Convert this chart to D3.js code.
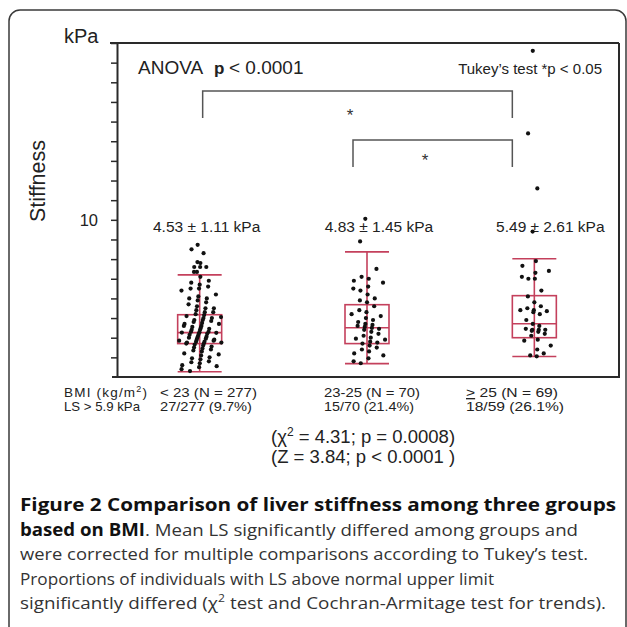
<!DOCTYPE html>
<html><head><meta charset="utf-8">
<script src="https://cdn.jsdelivr.net/npm/d3@7"></script>
<style>body{margin:0;background:#fff}svg{display:block}</style>
</head><body>
<script>
// ---- data ----
const groups = ["< 23", "23-25", ">= 25"];
const q1 = [3.70, 3.70, 4.00];
const medians = [4.26, 4.51, 4.71];
const q3 = [5.17, 5.68, 6.14];
const whiskLow = [2.27, 2.68, 3.04];
const whiskHigh = [7.20, 8.37, 8.02];
const meanLabels = ["4.53 \u00b1  1.11 kPa", "4.83 \u00b1 1.45 kPa", "5.49 \u00b1  2.61 kPa"];
const points1 = [8.73,8.5,8.3,7.85,7.8,7.6,7.6,7.6,7.35,7.35,
 7.1,6.9,6.8,6.7,6.6,6.5,6.5,6.4,6.2,6.1,6.0,6.0,5.9,5.8,5.7,5.6,5.5,5.5,5.4,5.3,5.3,5.2,
 5.15,5.1,5.05,5.0,5.0,4.9,4.9,4.85,4.8,4.75,4.7,4.7,4.6,4.6,4.55,4.5,4.45,4.4,4.4,4.3,4.3,4.28,4.26,4.25,4.2,4.2,4.15,4.1,4.05,4.0,4.0,3.95,3.9,3.9,3.85,3.85,3.8,3.8,3.75,3.75,3.7,3.7,
 3.65,3.6,3.55,3.5,3.45,3.4,3.35,3.3,3.2,3.15,3.1,3.0,2.95,2.9,2.8,2.75,2.7,2.6,2.55,2.5,2.4,2.3];
const points2 = [10.05,8.9,7.5,7.1,7.0,6.9,6.8,6.6,6.5,6.4,6.2,6.0,5.9,5.8,5.6,5.4,5.3,5.2,5.1,5.0,4.9,4.8,4.7,4.65,4.6,4.55,4.5,4.45,4.4,4.3,4.2,4.1,4.0,3.95,3.9,3.8,3.75,3.7,3.6,3.5,3.4,3.3,3.2,3.1,2.95,2.8,2.7];
const points3 = [18.6,14.4,11.6,9.4,7.9,7.66,7.4,7.3,7.1,7.0,7.0,6.4,6.1,5.8,5.6,5.5,5.4,5.4,5.35,5.3,5.2,4.9,4.7,4.6,4.45,4.4,4.4,4.4,4.35,4.3,4.2,4.1,3.9,3.85,3.6,3.4,3.2,3.1,3.05];
const allPoints = [points1, points2, points3];
const bmiRow = ["< 23 (N = 277)", "23-25 (N = 70)", "25 (N = 69)"];
const lsRow = ["27/277 (9.7%)", "15/70 (21.4%)", "18/59 (26.1%)"];
const yTicks = d3.range(3, 20);

// ---- drawing ----
const W = 627, H = 627;
const svg = d3.select("body").append("svg").attr("width", W).attr("height", H);
const FONT = "'Liberation Sans', Arial, sans-serif";
const plot = {l:117, r:619, t:43, b:377};

svg.append("rect").attr("x",9).attr("y",10).attr("width",617).attr("height",640)
  .attr("rx",11).attr("fill","none").attr("stroke","#3a3a3a").attr("stroke-width",1.5);

const x = d3.scaleBand().domain(groups).range([plot.l, plot.r]);
const y = d3.scaleLinear().domain([2, 19]).range([plot.b, plot.t]);

// frame
const fr = svg.append("g").attr("stroke","#2a2a2a").attr("stroke-width",2).attr("fill","none");
fr.append("line").attr("x1",110).attr("x2",plot.r).attr("y1",plot.t).attr("y2",plot.t);
fr.append("line").attr("x1",plot.r).attr("x2",plot.r).attr("y1",plot.t).attr("y2",plot.b);
fr.append("line").attr("x1",112).attr("x2",plot.r+1).attr("y1",plot.b).attr("y2",plot.b);

// y axis
const ax = svg.append("g").attr("transform",`translate(${plot.l},0)`)
  .call(d3.axisLeft(y).tickValues(yTicks).tickFormat(d => d === 10 ? "10" : "")
    .tickSize(6).tickSizeOuter(0).tickPadding(13));
ax.select(".domain").attr("stroke","#2a2a2a").attr("stroke-width",2);
ax.selectAll(".tick line").attr("stroke","#2a2a2a").attr("stroke-width",1.5);
ax.selectAll(".tick text").attr("font-family",FONT).attr("font-size",16.5).attr("fill","#222");

// axis titles
svg.append("text").attr("x",64).attr("y",43).attr("font-family",FONT).attr("font-size",20)
  .attr("fill","#222").text("kPa");
svg.append("text").attr("transform","translate(45,181) rotate(-90)").attr("text-anchor","middle")
  .attr("font-family",FONT).attr("font-size",21.5).attr("fill","#222").text("Stiffness");

// annotations
const an = svg.append("text").attr("y",74).attr("font-family",FONT).attr("font-size",19).attr("fill","#222");
an.append("tspan").attr("x",138).text("ANOVA");
an.append("tspan").attr("x",214).attr("font-weight","bold").attr("font-size",17).text("p");
an.append("tspan").attr("x",229).text("< 0.0001");
svg.append("text").attr("x",602).attr("y",74).attr("text-anchor","end").attr("font-family",FONT)
  .attr("font-size",15).attr("fill","#222").text("Tukey\u2019s test *p < 0.05");

// brackets
const cx = g => x(g) + x.bandwidth()/2;
const br = svg.append("g").attr("stroke","#555").attr("stroke-width",1.5).attr("fill","none");
br.append("path").attr("d",`M${cx(groups[0])+2},118V91H${cx(groups[2])-23}V118`);
br.append("path").attr("d",`M${cx(groups[1])-15},167V140H${cx(groups[2])-23}V167`);
svg.append("text").attr("x",350).attr("y",121).attr("text-anchor","middle").attr("font-family",FONT)
  .attr("font-size",17).attr("fill","#333").text("*");
svg.append("text").attr("x",425).attr("y",166).attr("text-anchor","middle").attr("font-family",FONT)
  .attr("font-size",17).attr("fill","#333").text("*");

// mean labels
const meanOff = [6, 11, 15];
groups.forEach((g,i) => {
  svg.append("text").attr("x",cx(g)+meanOff[i]).attr("y",232).attr("text-anchor","middle")
    .attr("font-family",FONT).attr("font-size",15.5).attr("fill","#222").text(meanLabels[i]);
});

// boxes
const boxColor = "#c4405c";
const bw = 44;
groups.forEach((g,i) => {
  const c = cx(g) - 1;
  const bg = svg.append("g").attr("stroke",boxColor).attr("stroke-width",1.6).attr("fill","none");
  bg.append("line").attr("x1",c).attr("x2",c).attr("y1",y(whiskLow[i])).attr("y2",y(whiskHigh[i]));
  bg.append("line").attr("x1",c-bw/2).attr("x2",c+bw/2).attr("y1",y(whiskLow[i])).attr("y2",y(whiskLow[i]));
  bg.append("line").attr("x1",c-bw/2).attr("x2",c+bw/2).attr("y1",y(whiskHigh[i])).attr("y2",y(whiskHigh[i]));
  bg.append("rect").attr("x",c-bw/2).attr("width",bw).attr("y",y(q3[i])).attr("height",y(q1[i])-y(q3[i]));
  bg.append("line").attr("x1",c-bw/2).attr("x2",c+bw/2).attr("y1",y(medians[i])).attr("y2",y(medians[i]));
});

// points with deterministic jitter
const spread = [26, 22, 20];
allPoints.forEach((pts,i) => {
  const c = cx(groups[i]) - 1;
  svg.append("g").selectAll("circle").data(pts).join("circle")
    .attr("cx",(d,k) => {
      const a = (k*0.7548776662 + 0.31) % 1, b = (k*0.5698402910 + 0.47) % 1;
      const t = (a + b - 1);
      return c + t * spread[i] * (d > whiskHigh[i] ? 0.35 : 1);
    })
    .attr("cy",d => y(d)).attr("r",2.1).attr("fill","#111");
});

// table below
const TS = 13.5;
svg.append("text").attr("x",64).attr("y",397).attr("font-family",FONT).attr("font-size",TS).attr("fill","#222")
  .attr("textLength",83).attr("lengthAdjust","spacing")
  .html('BMI  (kg/m<tspan dy="-5" font-size="9">2</tspan><tspan dy="5">)</tspan>');
svg.append("text").attr("x",64).attr("y",411).attr("font-family",FONT).attr("font-size",TS).attr("fill","#222")
  .attr("textLength",76).attr("lengthAdjust","spacingAndGlyphs").text("LS > 5.9 kPa");
const colX = [160, 324, 466];
const bmiLen = [97, 96, 92], lsLen = [92, 90, 98];
groups.forEach((g,i) => {
  const t = svg.append("text").attr("x",colX[i]).attr("y",397).attr("font-family",FONT).attr("font-size",TS)
    .attr("fill","#222").attr("textLength",bmiLen[i]).attr("lengthAdjust","spacingAndGlyphs");
  if (i === 2) {
    t.append("tspan").attr("text-decoration","underline").text(">");
    t.append("tspan").text(" " + bmiRow[i]);
  } else t.text(bmiRow[i]);
  svg.append("text").attr("x",colX[i]).attr("y",411).attr("font-family",FONT).attr("font-size",TS).attr("fill","#222")
    .attr("textLength",lsLen[i]).attr("lengthAdjust","spacingAndGlyphs").text(lsRow[i]);
});
svg.append("text").attr("x",271).attr("y",443).attr("font-family",FONT).attr("font-size",18.5).attr("fill","#222")
  .html('(\u03c7<tspan dy="-7" font-size="12">2</tspan><tspan dy="7"> = 4.31; p = 0.0008)</tspan>');
svg.append("text").attr("x",271).attr("y",463).attr("font-family",FONT).attr("font-size",18.5).attr("fill","#222")
  .text("(Z = 3.84; p < 0.0001 )");

// caption
const CF = "'Open Sans', 'Noto Sans', sans-serif";
const cap = [
  {y:511, len:596, parts:[["Figure 2 Comparison of liver stiffness among three groups",true]]},
  {y:536, len:558, parts:[["based on BMI",true],[". Mean LS significantly differed among groups and",false]]},
  {y:560, len:568, parts:[["were corrected for multiple comparisons according to Tukey\u2019s test.",false]]},
  {y:585, len:474, parts:[["Proportions of individuals with LS above normal upper limit",false]]},
];
cap.forEach(l => {
  const t = svg.append("text").attr("x",20).attr("y",l.y).attr("font-family",CF).attr("font-size",17)
    .attr("fill","#222").attr("textLength",l.len).attr("lengthAdjust","spacingAndGlyphs");
  l.parts.forEach(p => t.append("tspan").attr("font-weight",p[1]?"bold":"normal").attr("fill",p[1]?"#111":"#333").text(p[0]));
});
svg.append("text").attr("x",20).attr("y",609).attr("font-family",CF).attr("font-size",17).attr("fill","#333")
  .attr("textLength",586).attr("lengthAdjust","spacingAndGlyphs")
  .html('significantly differed (\u03c7<tspan dy="-7" font-size="11">2</tspan><tspan dy="7"> test and Cochran-Armitage test for trends).</tspan>');
</script>
</body></html>
